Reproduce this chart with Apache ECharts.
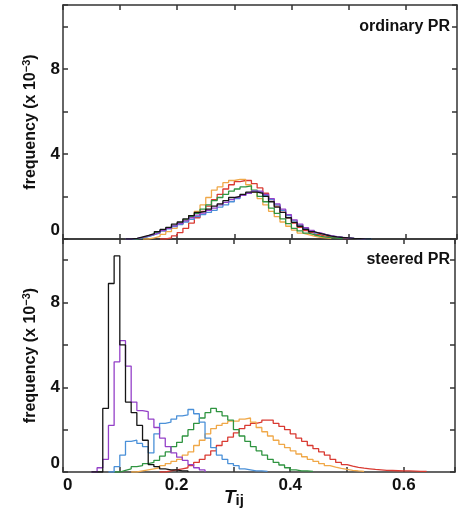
<!DOCTYPE html>
<html><head><meta charset="utf-8">
<script src="https://cdn.jsdelivr.net/npm/echarts@6/dist/echarts.min.js"></script>
<style>html,body{margin:0;padding:0;background:#fff}#c{width:458px;height:525px}</style>
</head><body><div id="c"></div>
<script>
// bin width 0.01 ; each series: start (left edge of first bin) + values (x 10^-3)
const BIN = 0.01;
const xTickLabels = [0, 0.2, 0.4, 0.6];
const yTickLabels = [0, 4, 8];
const seriesColors = { red:'#d93a32', orange:'#f0a848', green:'#2f9440', blue:'#4a90d8', purple:'#9440c8', black:'#151515' };
const panelLabels = ['ordinary PR', 'steered PR'];

// ---- top panel: ordinary PR ----
const topRedStart = 0.17;
const topRed = [0,0.05,0.15,0.3,0.5,0.75,1.0,1.3,1.55,1.85,2.1,2.35,2.55,2.7,2.75,2.75,2.6,2.4,2.15,1.85,1.55,1.25,1.0,0.75,0.55,0.4,0.3,0.2,0.14,0.09,0.06,0.04,0.02,0];
const topOrangeStart = 0.14;
const topOrange = [0,0.05,0.12,0.22,0.35,0.5,0.7,0.9,1.1,1.3,1.6,1.95,2.3,2.45,2.65,2.75,2.8,2.8,2.55,2.2,1.9,1.6,1.3,1.05,0.8,0.6,0.42,0.28,0.2,0.13,0.08,0.05,0.03,0];
const topGreenStart = 0.12;
const topGreen = [0,0.05,0.12,0.2,0.3,0.4,0.5,0.62,0.75,0.9,1.05,1.2,1.4,1.6,1.8,1.95,2.1,2.25,2.35,2.45,2.5,2.3,2.0,1.75,1.45,1.2,0.95,0.72,0.5,0.38,0.28,0.2,0.14,0.09,0.06,0.04,0.02,0];
const topBlueStart = 0.11;
const topBlue = [0,0.02,0.07,0.12,0.2,0.28,0.38,0.48,0.58,0.68,0.8,0.92,1.05,1.15,1.25,1.35,1.5,1.6,1.75,1.9,2.05,2.15,2.25,2.2,2.05,1.85,1.6,1.35,1.1,0.85,0.65,0.5,0.38,0.28,0.2,0.15,0.1,0.07,0.05,0.03,0.02,0.01,0.01,0];
const topPurpleStart = 0.11;
const topPurple = [0,0.03,0.08,0.15,0.22,0.3,0.4,0.5,0.62,0.72,0.85,1.0,1.12,1.22,1.35,1.45,1.6,1.72,1.85,1.95,2.05,2.15,2.25,2.25,2.1,1.9,1.65,1.4,1.15,0.9,0.7,0.53,0.4,0.3,0.22,0.16,0.11,0.08,0.05,0.03,0.02,0.01,0];
const topBlackStart = 0.11;
const topBlack = [0,0.03,0.1,0.17,0.25,0.35,0.45,0.55,0.7,0.8,0.95,1.1,1.25,1.3,1.4,1.55,1.65,1.8,1.95,2.0,2.1,2.2,2.2,2.15,2.0,1.75,1.5,1.25,1.0,0.78,0.6,0.45,0.35,0.27,0.2,0.14,0.1,0.07,0.05,0.03,0.02,0.01,0.01,0];

// ---- bottom panel: steered PR ----
const botRedStart = 0.17;
const botRed = [0,0.05,0.1,0.15,0.2,0.3,0.45,0.6,0.8,1.0,1.25,1.45,1.65,1.85,2.05,2.2,2.3,2.35,2.45,2.45,2.3,2.15,2.0,1.8,1.6,1.45,1.25,1.1,0.95,0.8,0.6,0.45,0.35,0.28,0.22,0.18,0.15,0.12,0.1,0.08,0.07,0.06,0.05,0.05,0.04,0.03,0.03,0];
const botOrangeStart = 0.12;
const botOrange = [0,0.05,0.1,0.15,0.2,0.3,0.4,0.5,0.6,0.8,0.95,1.25,1.5,1.8,2.05,2.2,2.3,2.4,2.4,2.5,2.55,2.35,2.1,1.9,1.7,1.5,1.3,1.15,1.0,0.85,0.72,0.6,0.5,0.4,0.3,0.23,0.17,0.12,0.08,0.05,0.03,0];
const botGreenStart = 0.09;
const botGreen = [0,0.08,0.15,0.25,0.3,0.4,0.45,0.55,0.75,0.95,1.2,1.4,1.7,2.0,2.3,2.55,2.8,3.0,2.85,2.65,2.45,2.0,1.7,1.45,1.2,1.0,0.8,0.6,0.45,0.33,0.2,0.1,0.05,0.05,0.03,0];
const botBlueStart = 0.08;
const botBlue = [0,0.25,0.8,1.45,1.5,1.35,1.2,0.9,1.8,2.3,2.35,2.5,2.65,2.7,2.95,2.75,2.35,1.6,1.15,0.8,0.6,0.4,0.3,0.15,0.1,0.05,0.05,0.03,0];
const botPurpleStart = 0.05;
const botPurple = [0,0.2,0.6,2.2,5.2,6.2,5.0,3.3,2.9,2.85,2.5,2.1,1.6,1.2,0.9,0.7,0.55,0.35,0.2,0.1,0];
const botBlackStart = 0.05;
const botBlack = [0,0,3.0,8.9,10.2,6.0,3.3,2.8,2.2,1.5,0.35,0.25,0.15,0.1,0.1,0.05,0.05,0];

const FONT = '"Liberation Sans",Arial,sans-serif';
const AX = '#333';

function pts(start, vals){ return vals.map((v,i)=>[+(start + i*BIN).toFixed(3), v]); }
function ser(xi, yi, start, vals, color){
  return {type:'line', xAxisIndex:xi, yAxisIndex:yi, step:'end', symbol:'none', silent:true,
    data: pts(start, vals), lineStyle:{color:color, width:1.3}, itemStyle:{color:color}, z:3};
}
function xAx(grid, pos, labels){
  return {type:'value', gridIndex:grid, position:pos, min:0, max:0.69, interval:0.1,
    axisLine:{show:true, onZero:false, lineStyle:{color:AX, width:1.5}},
    axisTick:{show:true, inside:true, length:5, lineStyle:{color:AX, width:1.5}},
    splitLine:{show:false},
    axisLabel: labels ? {show:true, margin:5, fontSize:17, fontWeight:'bold', fontFamily:FONT, color:'#111', alignMinLabel:'left',
      formatter: v => { const r = xTickLabels.find(t => Math.abs(t - v) < 1e-6); return r === undefined ? '' : (r === 0 ? '0' : r.toFixed(1)); }} : {show:false}
  };
}
function yAx(grid, pos, labels){
  const a = {type:'value', gridIndex:grid, position:pos, min:0, max:11, interval:2,
    axisLine:{show:true, onZero:false, lineStyle:{color:AX, width:1.5}},
    axisTick:{show:true, inside:true, length:5, lineStyle:{color:AX, width:1.5}},
    splitLine:{show:false},
    axisLabel: labels ? {show:true, margin:3, fontSize:17, fontWeight:'bold', fontFamily:FONT, color:'#111', verticalAlignMinLabel:'bottom',
      formatter: v => yTickLabels.indexOf(v) >= 0 ? String(v) : ''} : {show:false}
  };
  if (labels) {
    a.name = '{a|frequency (x 10}{s|\u22123}{a|)}';
    a.nameLocation = 'middle';
    a.nameRotate = 90;
    a.nameGap = 23;
    a.nameTextStyle = {rich:{
      a:{fontSize:16, fontWeight:'bold', fontFamily:FONT, color:'#111'},
      s:{fontSize:11, fontWeight:'bold', fontFamily:FONT, color:'#111', padding:[0,0,8,0]}
    }};
  }
  return a;
}

const chart = echarts.init(document.getElementById('c'), null, {renderer:'canvas'});
chart.setOption({
  animation:false,
  backgroundColor:'#fff',
  grid:[
    {left:63, right:1, top:5, height:234},
    {left:63, right:1, top:239, height:233}
  ],
  xAxis:[ xAx(0,'bottom',false), xAx(0,'top',false), xAx(1,'bottom',true), xAx(1,'top',false) ],
  yAxis:[ yAx(0,'left',true), yAx(0,'right',false), yAx(1,'left',true), yAx(1,'right',false) ],
  series:[
    ser(0,0,topRedStart,topRed,seriesColors.red),
    ser(0,0,topOrangeStart,topOrange,seriesColors.orange),
    ser(0,0,topGreenStart,topGreen,seriesColors.green),
    ser(0,0,topBlueStart,topBlue,seriesColors.blue),
    ser(0,0,topPurpleStart,topPurple,seriesColors.purple),
    ser(0,0,topBlackStart,topBlack,seriesColors.black),
    ser(2,2,botRedStart,botRed,seriesColors.red),
    ser(2,2,botOrangeStart,botOrange,seriesColors.orange),
    ser(2,2,botGreenStart,botGreen,seriesColors.green),
    ser(2,2,botBlueStart,botBlue,seriesColors.blue),
    ser(2,2,botPurpleStart,botPurple,seriesColors.purple),
    ser(2,2,botBlackStart,botBlack,seriesColors.black)
  ],
  graphic:[
    {type:'text', x:450, y:27, style:{text:panelLabels[0], align:'right', verticalAlign:'middle', fill:'#111', font:'bold 16px ' + FONT}},
    {type:'text', x:450, y:260, style:{text:panelLabels[1], align:'right', verticalAlign:'middle', fill:'#111', font:'bold 16px ' + FONT}},
    {type:'text', x:224, y:488, style:{text:'{t|T}{s|ij}', fill:'#111',
      rich:{ t:{fontSize:19, fontWeight:'bold', fontStyle:'italic', fontFamily:FONT, fill:'#111', padding:[0,0,6,0]},
             s:{fontSize:15, fontWeight:'bold', fontFamily:FONT, fill:'#111'} }}}
  ]
});
</script>
</body></html>
